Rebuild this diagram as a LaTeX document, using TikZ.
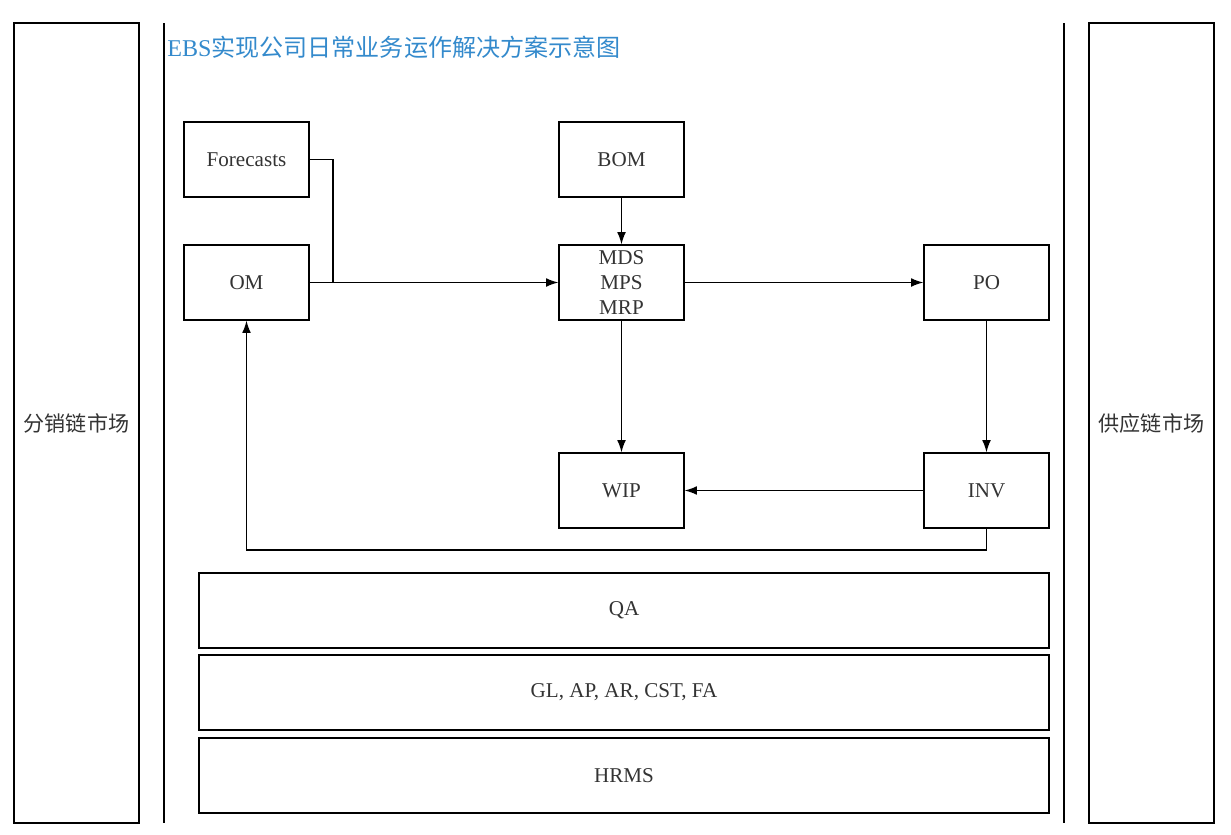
\documentclass[tikz,border=0pt]{standalone}
\usepackage{fontspec}
\setmainfont{Liberation Serif}
\newfontfamily\cjk{Noto Sans CJK SC}
\usetikzlibrary{arrows.meta}
\definecolor{titleblue}{RGB}{52,138,204}

\begin{document}
\begin{tikzpicture}[x=0.02cm, y=-0.02cm, >={Latex[length=7pt,width=5pt]},
  module/.style={draw, line width=0.7pt, minimum width=2.5cm, minimum height=1.5cm,
    inner sep=0pt, align=center, text=black!80,
    font=\fontsize{12}{14}\selectfont},
  band/.style={module, minimum width=17cm},
  market/.style={module, minimum height=16cm, font=\cjk\fontsize{12}{14}\selectfont},
  link/.style={->, line width=0.8pt}]

  %% ---- Frame ----
  \useasboundingbox (0,0) rectangle (1231,835);

  %% ---- Markets (left / right) ----
  \node[market] (dist) at (76.5,423) {分销链市场};
  \node[market] (supp) at (1151.5,423) {供应链市场};
  \draw[line width=0.7pt] (164,23) -- (164,823);
  \draw[line width=0.7pt] (1064,23) -- (1064,823);

  %% ---- Title ----
  \node[anchor=west, inner sep=0pt, text=titleblue, font=\fontsize{13.7}{16}\selectfont]
    (title) at (167,47) {EBS{\cjk 实现公司日常业务运作解决方案示意图}};

  %% ---- Modules ----
  \node[module] (fc)  at (246.5,159.5) {Forecasts};
  \node[module] (om)  at (246.5,282.5) {OM};
  \node[module] (bom) at (621.5,159.5) {BOM};
  \node[module] (mrp) at (621.5,282.5) {MDS\\MPS\\MRP};
  \node[module] (po)  at (986.5,282.5) {PO};
  \node[module] (wip) at (621.5,490.5) {WIP};
  \node[module] (inv) at (986.5,490.5) {INV};

  %% ---- Bands ----
  \node[band] (qa) at (624,610.5) {QA};
  \node[band] (fin) at (624,692.5) {GL, AP, AR, CST, FA};
  \node[band] (hr) at (624,775.5) {HRMS};

  %% ---- Flows ----
  \coordinate (fcjoin) at (333,282.5);
  \coordinate (loop) at (986.5,550);
  \draw[line width=0.8pt] (fc.east) -| (fcjoin);
  \draw[link] (om.east) -- (mrp.west);
  \draw[link] (bom.south) -- (mrp.north);
  \draw[link] (mrp.east) -- (po.west);
  \draw[link] (mrp.south) -- (wip.north);
  \draw[link] (po.south) -- (inv.north);
  \draw[link] (inv.west) -- (wip.east);
  \draw[link] (inv.south) -- (loop) -| (om.south);

\end{tikzpicture}
\end{document}
